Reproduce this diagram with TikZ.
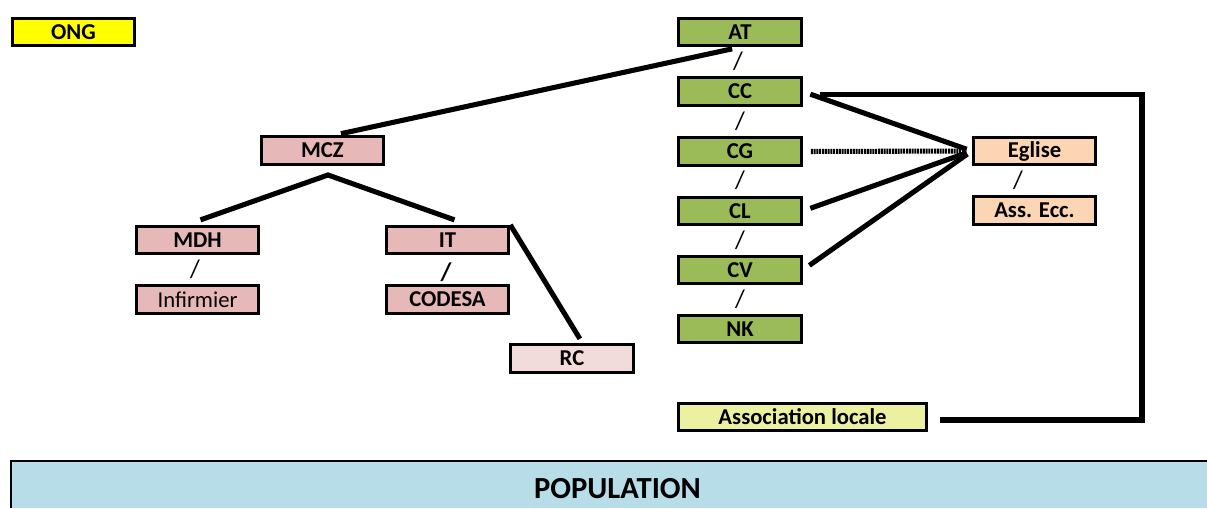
\documentclass[tikz,border=0pt]{standalone}
\usepackage{fontspec}
\setmainfont{Carlito}
\usetikzlibrary{positioning}
\definecolor{ongyellow}{HTML}{FFFF00}
\definecolor{atgreen}{HTML}{9BBB59}
\definecolor{mczpink}{HTML}{E6B8B7}
\definecolor{rcpink}{HTML}{F2DCDB}
\definecolor{eglisepeach}{HTML}{FCD5B4}
\definecolor{assocyellow}{HTML}{EBF1A0}
\definecolor{popblue}{HTML}{B7DEE8}

\begin{document}
\begin{tikzpicture}[x=0.75pt, y=-0.75pt,
    box/.style={draw, line width=2.2pt, minimum width=92pt, minimum height=20.5pt,
        inner sep=0pt, font=\bfseries\fontsize{17}{19}\selectfont},
    link/.style={line width=3.8pt, shorten <=6pt, shorten >=4pt},
    slashmark/.style={inner sep=0pt, font=\fontsize{19}{21}\selectfont}]
        \useasboundingbox (0,0) rectangle (1207,508);

        % ONG (top left)
        \node[box, fill=ongyellow] (ong) at (73.5,32) {ONG};

        % green column
        \node[box, fill=atgreen] (at) at (740,32) {AT};
        \node[box, fill=atgreen] (cc) at (740,91.5) {CC};
        \node[box, fill=atgreen] (cg) at (740,151.5) {CG};
        \node[box, fill=atgreen] (cl) at (740,211) {CL};
        \node[box, fill=atgreen] (cv) at (740,270) {CV};
        \node[box, fill=atgreen] (nk) at (740,329) {NK};
        \node[slashmark] (s1) at (738,61) {/};
        \node[slashmark] (s2) at (740,121) {/};
        \node[slashmark] (s3) at (740,180) {/};
        \node[slashmark] (s4) at (740,240) {/};
        \node[slashmark] (s5) at (740,299) {/};

        % MCZ and below
        \node[box, fill=mczpink] (mcz) at (322.5,150.5) {MCZ};
        \node[box, fill=mczpink] (mdh) at (197.5,240) {MDH};
        \node[box, fill=mczpink, font=\fontsize{17}{19}\selectfont] (inf) at (197.5,299.5) {Infirmier};
        \node[box, fill=mczpink] (it) at (447.5,240) {IT};
        \node[box, fill=mczpink] (codesa) at (447.5,299.5) {CODESA};
        \node[box, fill=rcpink] (rc) at (572,358.5) {RC};
        \node[slashmark] (s6) at (195,269.5) {/};
        \node[slashmark, font=\bfseries\fontsize{19}{21}\selectfont] (s7) at (446,272) {/};

        % Eglise (right)
        \node[box, fill=eglisepeach] (eglise) at (1034.5,151) {Eglise};
        \node[box, fill=eglisepeach] (assecc) at (1034.5,210.5) {Ass. Ecc.};
        \node[slashmark] (s8) at (1018,180) {/};

        % Association locale
        \node[box, fill=assocyellow, minimum width=186pt] (assoc) at (802.5,417) {Association locale};

        % Population (bottom)
        \fill[popblue] (11,461) rectangle (1207,508);
        \draw[line width=2.2pt] (1207,461) -- (11,461) -- (11,508);
        \node[font=\bfseries\fontsize{23}{26}\selectfont] (pop) at (617.5,489) {POPULATION};

        % Links
        \draw[link, shorten >=6pt] ([xshift=8pt]mcz.north) -- (at.south);
        \coordinate (fork) at (328,175);
        \draw[link, shorten <=0pt, shorten >=0pt] ([shift={(3,-5)}]mdh.north) -- (fork) -- ([shift={(7,-5)}]it.north);
        \draw[link, shorten <=0pt] (it.north east) -- ([xshift=8pt]rc.north);
        \draw[link] (cc.east) -- (eglise.west);
        \draw[link, dash pattern=on 1.5pt off 0.6pt] (cg.east) -- (eglise.west);
        \draw[link] (cl.east) -- (eglise.west);
        \draw[link] (cv.east) -- (eglise.west);

        % CC -> Association locale
        \coordinate (bend) at (1142,420);
        \draw[link, shorten >=0pt] ([shift={(9,3)}]cc.east) -| (bend) -- ([shift={(12,3)}]assoc.east);
\end{tikzpicture}
\end{document}
